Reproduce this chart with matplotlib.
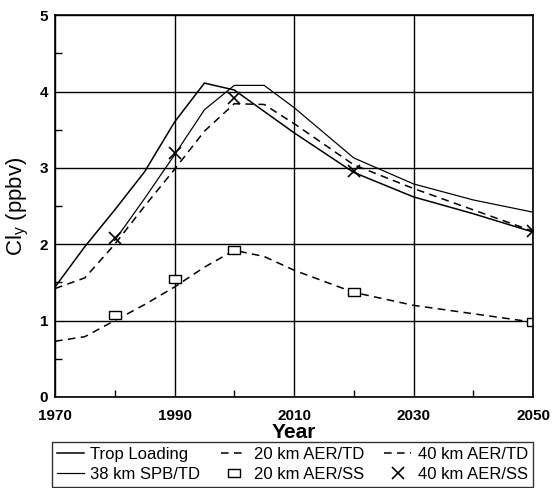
import numpy as np
import matplotlib
matplotlib.use("Agg")
import matplotlib.pyplot as plt
from matplotlib.ticker import MultipleLocator

plt.rcParams['font.family'] = ['Liberation Sans', 'DejaVu Sans']

# data
trop_years = [1970, 1975, 1980, 1985, 1990, 1995, 2000, 2010, 2020, 2030, 2040, 2050]
trop_cly = [1.44, 1.97, 2.45, 2.95, 3.60, 4.11, 4.02, 3.46, 2.94, 2.62, 2.40, 2.16]

spb_years = [1980, 1985, 1990, 1995, 2000, 2005, 2010, 2020, 2030, 2040, 2050]
spb_cly = [2.05, 2.60, 3.17, 3.76, 4.08, 4.08, 3.79, 3.13, 2.79, 2.58, 2.42]

aer20_years = [1970, 1975, 1980, 1985, 1990, 1995, 2000, 2005, 2010, 2020, 2030, 2040, 2050]
aer20_cly = [0.73, 0.79, 1.00, 1.21, 1.44, 1.70, 1.92, 1.84, 1.66, 1.37, 1.20, 1.09, 0.98]

aer40_years = [1970, 1975, 1980, 1985, 1990, 1995, 2000, 2005, 2010, 2020, 2030, 2040, 2050]
aer40_cly = [1.42, 1.56, 2.00, 2.50, 2.98, 3.48, 3.84, 3.83, 3.58, 3.04, 2.73, 2.45, 2.17]

ss20_years = [1980, 1990, 2000, 2020, 2050]
ss20_cly = [1.08, 1.54, 1.92, 1.37, 0.98]

ss40_years = [1980, 1990, 2000, 2020, 2050]
ss40_cly = [2.08, 3.20, 3.92, 2.96, 2.17]

fig = plt.figure(figsize=(5.58, 4.88), dpi=100)
ax = fig.add_axes([0.0986, 0.1865, 0.8566, 0.7825])

lw = 1.1
dash = (0, (5, 3.5))
rect = [(-1.6, -1), (1.6, -1), (1.6, 1), (-1.6, 1), (-1.6, -1)]

ax.plot(trop_years, trop_cly, color='black', lw=lw, label='Trop Loading')
ax.plot(spb_years, spb_cly, color='black', lw=lw * 0.8, label='38 km SPB/TD')
ax.plot(aer20_years, aer20_cly, color='black', lw=lw, ls=dash, label='20 km AER/TD')
ax.plot(ss20_years, ss20_cly, ls='none', marker=rect, ms=8.5, mfc='white',
        mec='black', mew=1.0, label='20 km AER/SS')
ax.plot(aer40_years, aer40_cly, color='black', lw=lw, ls=dash, label='40 km AER/TD')
ax.plot(ss40_years, ss40_cly, ls='none', marker='x', ms=8, mec='black',
        mew=1.2, label='40 km AER/SS')

ax.set_xlim(1970, 2050)
ax.set_ylim(0, 5)
ax.set_xticks([1970, 1990, 2010, 2030, 2050])
ax.set_yticks([0, 1, 2, 3, 4, 5])
ax.xaxis.set_minor_locator(MultipleLocator(10))
ax.yaxis.set_minor_locator(MultipleLocator(0.5))
ax.tick_params(which='both', direction='in', top=False, right=False,
               labelsize=11, width=1)
ax.tick_params(which='major', length=0)
ax.tick_params(axis='x', which='major', pad=9)
ax.tick_params(axis='y', which='major', pad=5)
ax.tick_params(which='minor', length=5)
for lab in ax.get_xticklabels() + ax.get_yticklabels():
    lab.set_fontweight('bold')
ax.grid(True, which='major', color='black', lw=1)
for s in ax.spines.values():
    s.set_linewidth(1.2)

ax.set_xlabel('Year', fontsize=15, fontweight='bold', labelpad=0)
ax.set_ylabel('Cl$_\\mathregular{y}$ (ppbv)', fontsize=16, labelpad=6)

leg = fig.legend(loc='upper left', bbox_to_anchor=(0.093, 0.094, 0.862, 0.0),
                 ncol=3, mode='expand', fontsize=12, frameon=True, fancybox=False,
                 edgecolor='black', handlelength=1.6, handletextpad=0.4,
                 borderaxespad=0, borderpad=0.3, labelspacing=0.3, columnspacing=0.8)
leg.get_frame().set_linewidth(1.0)

fig.savefig('out.png', dpi=100)
